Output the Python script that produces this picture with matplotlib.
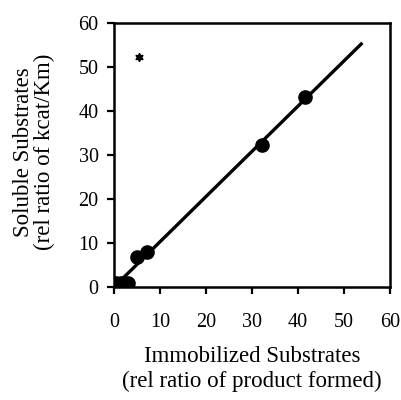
import matplotlib
matplotlib.use("Agg")
import matplotlib.pyplot as plt

# Data
immob_x = [0.5, 1.5, 3.0, 4.9, 7.1, 32.2, 41.5]
soluble_y = [1.0, 1.0, 1.0, 6.8, 8.0, 32.3, 43.2]
outlier_x = [5.5]
outlier_y = [52.2]
fit_x = [0.0, 54.0]
fit_y = [0.0, 55.5]
ticks = [0, 10, 20, 30, 40, 50, 60]

plt.rcParams['font.family'] = ['Liberation Serif', 'DejaVu Serif']

fig = plt.figure(figsize=(4.02, 4.0), dpi=100)
ax = fig.add_axes([114/402, 113/400, 276/402, 264/400])

ax.plot(fit_x, fit_y, color='black', lw=2.4, solid_capstyle='butt', zorder=2)
ax.plot(immob_x, soluble_y, 'o', color='black', ms=9.5, zorder=3)
ax.plot(outlier_x, outlier_y, marker=(6, 1, 0), color='black', ms=6, ls='none', zorder=3)

ax.set_xlim(0, 60)
ax.set_ylim(0, 60)
ax.set_xticks(ticks)
ax.set_yticks(ticks)
for s in ax.spines.values():
    s.set_linewidth(1.8)
ax.tick_params(axis='x', direction='out', length=5, width=1.6, pad=14, labelsize=14.5)
ax.tick_params(axis='y', direction='out', length=5, width=1.6, pad=6, labelsize=14.5)

fig.text(252/402, 1 - 356/400, 'Immobilized Substrates', fontsize=16.5,
         ha='center', va='center')
fig.text(252/402, 1 - 381/400, '(rel ratio of product formed)', fontsize=16.5,
         ha='center', va='center')
fig.text(24/402, 1 - 152/400, 'Soluble Substrates', fontsize=16.5,
         ha='center', va='center', rotation=90)
fig.text(44/402, 1 - 152/400, '(rel ratio of kcat/Km)', fontsize=16.5,
         ha='center', va='center', rotation=90)

fig.savefig('out.png', dpi=100)
